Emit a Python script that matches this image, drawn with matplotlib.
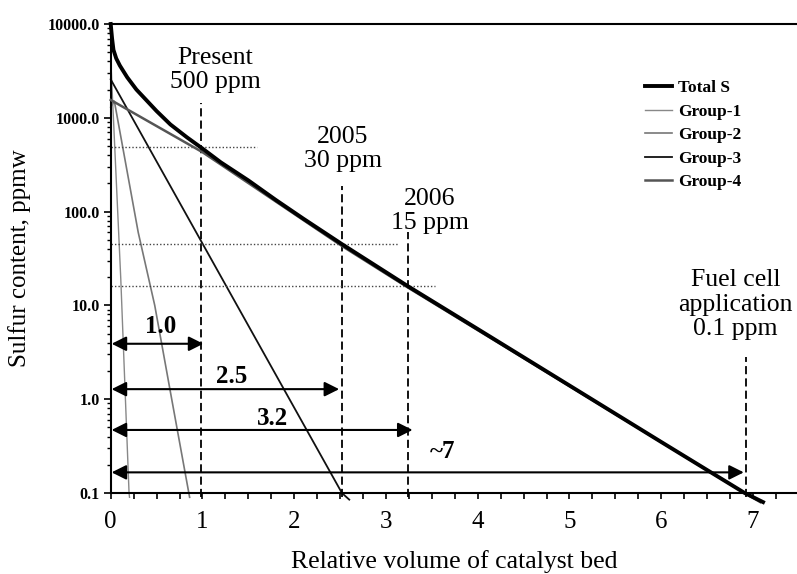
import numpy as np
import matplotlib
matplotlib.use('Agg')
import matplotlib.pyplot as plt
import matplotlib.transforms as mtransforms
from matplotlib.ticker import FixedLocator, NullFormatter

plt.rcParams['font.family'] = ['Liberation Serif', 'DejaVu Serif']

# curves (x = relative volume, y = ppmw)
total_x = [0.0, 0.015, 0.03, 0.06, 0.1, 0.18, 0.28, 0.4, 0.5, 0.65, 0.83, 1.0, 1.2, 1.5, 1.8, 2.1, 2.52, 3.24, 4.0, 5.0, 6.0, 6.91, 7.11]
total_y = [10000, 7000, 5300, 4300, 3600, 2700, 2000, 1500, 1180, 850, 620, 470, 335, 215, 133, 84, 45, 16, 5.6, 1.4, 0.35, 0.1, 0.08]

g1_x = [0.0, 0.01, 0.11, 0.2, 0.205]
g1_y = [4500, 2600, 19, 0.1, 0.09]

g2_x = [0.0, 0.04, 0.3, 0.48, 0.665, 0.86]
g2_y = [1300, 1500, 60, 10, 1.0, 0.09]

g3_x = [0.0, 2.52, 2.6]
g3_y = [2570, 0.1, 0.085]

g4_x = [0.0, 1.0, 2.52, 3.24, 6.91, 7.08]
g4_y = [1550, 430, 43, 15.5, 0.1, 0.08]

# specification limits
limit_x = [0.98, 2.52, 3.24, 6.92]
limit_top = [1450, 189, 60, 2.8]
limit_text = ['Present\n500 ppm', '2005\n30 ppm', '2006\n15 ppm', 'Fuel cell\napplication\n0.1 ppm']
text_x = [1.14, 2.53, 3.48, 6.81]
text_y = [3250, 465, 102, 10.2]

dot_y = [484, 45, 16.2]
dot_end = [1.59, 3.14, 3.53]

arrow_end = [1.01, 2.49, 3.29, 6.90]
arrow_y = [3.9, 1.28, 0.47, 0.166]
arrow_lab = ['1.0', '2.5', '3.2', '~7']
arrow_lab_x = [0.54, 1.32, 1.76, 3.62]
arrow_lab_y = [5.95, 1.74, 0.63, 0.275]

fig = plt.figure(figsize=(7.97, 5.74), dpi=100)
ax = fig.add_axes([0.1389, 0.1411, 0.8611, 0.8171])

ax.plot(total_x, total_y, color='black', lw=2.8, label='Total S', clip_on=False, zorder=5)
ax.plot(g1_x, g1_y, color='#888888', lw=1.0, label='Group-1', clip_on=False)
ax.plot(g2_x, g2_y, color='#777777', lw=1.2, label='Group-2', clip_on=False)
ax.plot(g3_x, g3_y, color='#111111', lw=1.3, label='Group-3', clip_on=False)
ax.plot(g4_x, g4_y, color='#555555', lw=1.8, label='Group-4', clip_on=False, zorder=4)

for x, top in zip(limit_x, limit_top):
    ax.plot([x, x], [0.09, top], color='black', lw=1.3, ls=(0, (4.5, 2.3)), clip_on=False)
for s, x, y in zip(limit_text, text_x, text_y):
    ax.text(x, y, s, ha='center', va='center', fontsize=18.5, linespacing=1.13)

for y, xe in zip(dot_y, dot_end):
    ax.plot([0, xe], [y, y], color='#444444', lw=1.0, ls=(0, (1, 1.5)))

for xe, y in zip(arrow_end, arrow_y):
    ax.annotate('', xy=(xe, y), xytext=(0.01, y),
                arrowprops=dict(arrowstyle='<|-|>', color='black', lw=1.5,
                                mutation_scale=22, shrinkA=0, shrinkB=0))
for s, x, y in zip(arrow_lab, arrow_lab_x, arrow_lab_y):
    ax.text(x, y, s, ha='center', va='center', fontsize=18, fontweight='bold')

ax.set_yscale('log')
ax.set_xlim(0, 7.48)
ax.set_ylim(0.1, 10000)

yt = [0.1, 1, 10, 100, 1000, 10000]
ax.set_yticks(yt)
ax.set_yticklabels(['0.1', '1.0', '10.0', '100.0', '1000.0', '10000.0'], fontweight='bold', fontsize=11.5)
minors = [m * 10.0 ** e for e in range(-1, 4) for m in range(2, 10)]
ax.yaxis.set_minor_locator(FixedLocator(minors))
ax.yaxis.set_minor_formatter(NullFormatter())

ax.set_xticks(range(8))
ax.set_xticklabels([str(i) for i in range(8)], fontsize=18)
ax.xaxis.set_minor_locator(FixedLocator(np.arange(0, 7.5, 0.25)))
shift = mtransforms.ScaledTranslation(4 / 100, 0, fig.dpi_scale_trans)
for lab in ax.get_xticklabels():
    lab.set_transform(lab.get_transform() + shift)

ax.tick_params(axis='x', which='both', direction='out', length=4, width=1.2, pad=9)
ax.tick_params(axis='y', which='major', direction='out', length=5, width=1.2, pad=3)
ax.tick_params(axis='y', which='minor', direction='out', length=3, width=1.0)

ax.spines['right'].set_visible(False)
for sp in ['left', 'bottom', 'top']:
    ax.spines[sp].set_linewidth(1.5)

ax.set_xlabel('Relative volume of catalyst bed', fontsize=18.5, labelpad=12)
ax.set_ylabel('Sulfur content, ppmw', fontsize=18, labelpad=12)

ax.legend(loc='upper left', bbox_to_anchor=(0.778, 0.88), frameon=False,
          prop={'weight': 'bold', 'size': 12.5}, handlelength=1.6, handletextpad=0.3,
          labelspacing=0.42, borderpad=0, borderaxespad=0)

fig.savefig('out.png', dpi=100)
